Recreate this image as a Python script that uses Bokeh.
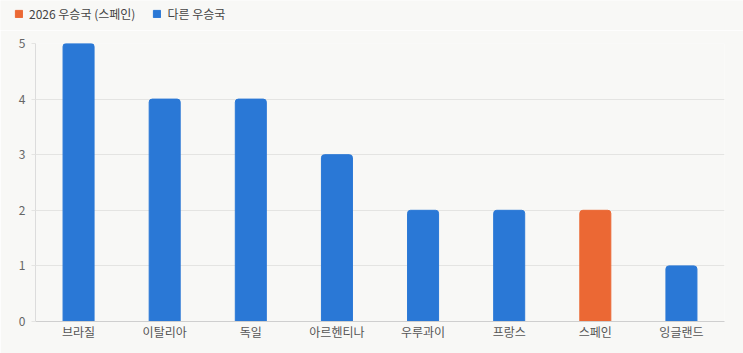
from bokeh.plotting import figure
from bokeh.layouts import column
from bokeh.models import Legend, LegendItem, Range1d, FactorRange
from bokeh.embed import file_html
from bokeh.resources import INLINE

countries = ["브라질", "이탈리아", "독일", "아르헨티나", "우루과이", "프랑스", "스페인", "잉글랜드"]
titles = [5, 4, 4, 3, 2, 2, 2, 1]
highlight = ["스페인"]
series_labels = ["2026 우승국 (스페인)", "다른 우승국"]

BLUE = "#2a78d6"
ORANGE = "#eb6834"
BG = "#f8f8f6"
FONT = "Noto Sans CJK KR"

hl_x = [c for c in countries if c in highlight]
hl_y = [v for c, v in zip(countries, titles) if c in highlight]
ot_x = [c for c in countries if c not in highlight]
ot_y = [v for c, v in zip(countries, titles) if c not in highlight]

# ---- legend strip (its own small figure above the chart) ----
pl = figure(width=743, height=30, x_range=Range1d(0, 1), y_range=Range1d(0, 1),
            x_axis_location=None, y_axis_location=None,
            output_backend="svg", toolbar_location=None,
            background_fill_color=BG, border_fill_color=BG, outline_line_color=None,
            min_border=0, min_border_left=0, min_border_right=0,
            min_border_top=0, min_border_bottom=0)
pl.frame_align = False
pl.grid.visible = False
# legend-key renderers kept outside the visible range of the strip
d_hl = pl.vbar(x=[-5], top=[-5], bottom=[-6], width=0.1, color=ORANGE,
               border_radius=2)
d_ot = pl.vbar(x=[-5], top=[-5], bottom=[-6], width=0.1, color=BLUE,
               border_radius=2)
legend = Legend(items=[LegendItem(label=series_labels[0], renderers=[d_hl]),
                       LegendItem(label=series_labels[1], renderers=[d_ot])],
                orientation="horizontal", location=(14, 8),
                background_fill_alpha=0, border_line_color=None,
                label_text_font=FONT, label_text_font_size="12px", label_text_color="#444444",
                glyph_width=9, glyph_height=9, spacing=17, padding=0, margin=0,
                label_standoff=6)
pl.add_layout(legend, "center")

# ---- main chart ----
p = figure(width=743, height=323, x_range=FactorRange(*countries, range_padding=0),
           y_range=Range1d(0, 5), output_backend="svg", toolbar_location=None,
           background_fill_color=BG, border_fill_color=BG, outline_line_color=None,
           min_border_left=35, min_border_right=19, min_border_top=13, min_border_bottom=32)
p.frame_align = False

p.vbar(x=hl_x, top=hl_y, width=0.36, color=ORANGE, border_radius=(3, 3, 0, 0))
p.vbar(x=ot_x, top=ot_y, width=0.36, color=BLUE, border_radius=(3, 3, 0, 0))

p.xgrid.grid_line_color = None
p.ygrid.grid_line_color = "#e4e4e2"
p.ygrid.grid_line_width = 1

p.yaxis.ticker = [0, 1, 2, 3, 4, 5]
p.yaxis.axis_line_color = "#dcdcdc"
p.yaxis.major_tick_line_color = "#e4e4e2"
p.yaxis.major_tick_out = 4
p.yaxis.major_tick_in = 0
p.yaxis.minor_tick_line_color = None
p.yaxis.major_label_text_color = "#666666"
p.yaxis.major_label_text_font = FONT
p.yaxis.major_label_text_font_size = "12px"
p.yaxis.major_label_standoff = 6

p.xaxis.axis_line_color = "#cfcfcf"
p.xaxis.major_tick_line_color = None
p.xaxis.minor_tick_line_color = None
p.xaxis.major_label_text_color = "#555555"
p.xaxis.major_label_text_font = FONT
p.xaxis.major_label_text_font_size = "12px"
p.xaxis.major_label_standoff = -5

layout = column(pl, p, spacing=0)
open("out.html", "w").write(file_html(layout, INLINE))
